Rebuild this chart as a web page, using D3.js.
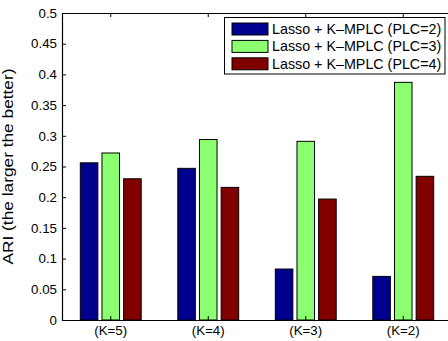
<!DOCTYPE html>
<html><head><meta charset="utf-8">
<script src="https://cdn.jsdelivr.net/npm/d3@7"></script>
<style>body{margin:0;background:#fff}svg{display:block;font-family:"Liberation Sans",Arial,sans-serif}</style>
</head><body>
<script>
const categories = ["(K=5)","(K=4)","(K=3)","(K=2)"];
const seriesNames = ["Lasso + K\u2013MPLC (PLC=2)","Lasso + K\u2013MPLC (PLC=3)","Lasso + K\u2013MPLC (PLC=4)"];
const plc2 = [0.256, 0.247, 0.083, 0.071];
const plc3 = [0.272, 0.294, 0.291, 0.387];
const plc4 = [0.230, 0.216, 0.197, 0.234];
const yTicks = [0,0.05,0.1,0.15,0.2,0.25,0.3,0.35,0.4,0.45,0.5];
const colors = ["#00008f","#8cff70","#800000"];

const W=448,H=341;
const L=62,R=452,T=13,B=320;
const svg=d3.select("body").append("svg").attr("width",W).attr("height",H);
const x=d3.scaleBand().domain(categories).range([L,R]).padding(0);
const xi=d3.scaleBand().domain(d3.range(3)).range([16.25,x.bandwidth()-16.25]).paddingInner(0.19).paddingOuter(0.095);
const y=d3.scaleLinear().domain([0,0.5]).range([B,T]);
const series=[plc2,plc3,plc4];

// bars
series.forEach((vals,j)=>{
  svg.append("g").selectAll("rect").data(vals).join("rect")
    .attr("x",(d,i)=>x(categories[i])+xi(j))
    .attr("width",xi.bandwidth())
    .attr("y",d=>y(d))
    .attr("height",d=>y(0)-y(d))
    .attr("fill",colors[j]).attr("stroke","#000").attr("stroke-width",1);
});

const fmt=d=>d===0?"0":String(+d.toFixed(2));
// left axis
const ga=svg.append("g").attr("transform",`translate(${L},0)`)
  .call(d3.axisLeft(y).tickValues(yTicks).tickFormat(fmt).tickSize(-4).tickPadding(5).tickSizeOuter(0));
ga.selectAll("text").attr("font-size",13.3).attr("fill","#000").attr("font-family","Liberation Sans, Arial, sans-serif");
// right axis (ticks only)
svg.append("g").attr("transform",`translate(${R},0)`)
  .call(d3.axisRight(y).tickValues(yTicks).tickFormat("").tickSize(-4).tickSizeOuter(0));
// bottom axis
const gb=svg.append("g").attr("transform",`translate(0,${B})`)
  .call(d3.axisBottom(x).tickSize(-4).tickPadding(6).tickSizeOuter(0));
gb.selectAll("text").attr("font-size",13.3).attr("fill","#000").attr("font-family","Liberation Sans, Arial, sans-serif");
// top axis
svg.append("g").attr("transform",`translate(0,${T})`)
  .call(d3.axisTop(x).tickFormat("").tickSize(-4).tickSizeOuter(0));
svg.selectAll(".domain").attr("stroke","#000").attr("stroke-width",1.2);
svg.selectAll(".tick line").attr("stroke","#000");

// y label
svg.append("text").attr("transform",`translate(13,${(T+B)/2}) rotate(-90)`)
  .attr("text-anchor","middle").attr("font-size",14)
  .attr("textLength",196).attr("lengthAdjust","spacingAndGlyphs")
  .text("ARI (the larger the better)");

// legend
const lg=svg.append("g");
lg.append("rect").attr("x",224.5).attr("y",17.5).attr("width",220.5).attr("height",56.5)
  .attr("fill","#fff").attr("stroke","#000").attr("stroke-width",1);
seriesNames.forEach((n,j)=>{
  const cy=29+j*17.4;
  lg.append("rect").attr("x",232).attr("y",cy-6).attr("width",36).attr("height",12)
    .attr("fill",colors[j]).attr("stroke","#000").attr("stroke-width",1);
  lg.append("text").attr("x",272).attr("y",cy+5).attr("font-size",14.3).text(n);
});
</script>
</body></html>
